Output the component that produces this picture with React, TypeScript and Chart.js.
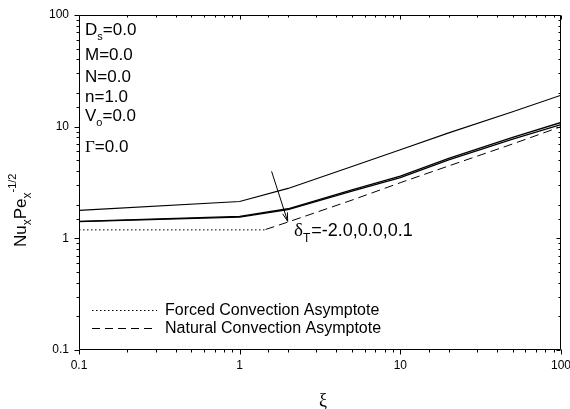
import React, { useEffect, useRef } from "react";
import { Chart, registerables } from "chart.js";

Chart.register(...registerables);

// ---------- data ----------
const XI = [0.1, 1, 2, 5, 10, 20, 50, 100];
const NU_DT_NEG2 = [1.78, 2.14, 2.8, 4.4, 6.2, 8.8, 13.6, 19.1];
const NU_DT_0 = [1.42, 1.57, 1.84, 2.72, 3.6, 5.2, 8.0, 10.9];
const NU_DT_01 = [1.41, 1.55, 1.81, 2.65, 3.5, 5.05, 7.75, 10.45];
const FORCED_XI = [0.1, 1.45];
const FORCED_NU = [1.19, 1.19];
const NATURAL_XI = [1.45, 2, 5, 10, 20, 50, 100];
const NATURAL_NU = [1.2, 1.4, 2.2, 3.15, 4.45, 7.0, 10.0];

const X_MIN = 0.1;
const X_MAX = 100;
const Y_MIN = 0.1;
const Y_MAX = 100;

const PARAM_LINES = [
  { main: "D", sub: "s", rest: "=0.0" },
  { main: "M=0.0", sub: "", rest: "" },
  { main: "N=0.0", sub: "", rest: "" },
  { main: "n=1.0", sub: "", rest: "" },
  { main: "V", sub: "o", rest: "=0.0" },
  { main: "Γ", sub: "", rest: "=0.0" },
];
const DELTA_TEXT = { sym: "δ", sub: "T", rest: "=-2.0,0.0,0.1" };
const ARROW_FROM = { x: 1.58, y: 3.98 };
const ARROW_TO = { x: 1.99, y: 1.42 };
const LEGEND_ITEMS = [
  { label: "Forced Convection Asymptote", dash: [1.5, 2.5] },
  { label: "Natural Convection Asymptote", dash: [8, 5] },
];

const SANS = "Arial, 'Liberation Sans', Helvetica, sans-serif";
const SERIF = "'Times New Roman', 'Liberation Serif', serif";

const isDecade = (v: number) =>
  Math.abs(Math.log10(v) - Math.round(Math.log10(v))) < 1e-6;

const decadeLabel = (v: number) => {
  if (!isDecade(v)) return "";
  const e = Math.round(Math.log10(v));
  return e < 0 ? "0.1" : String(Math.pow(10, e));
};

const decorPlugin = {
  id: "decor",
  afterDraw(chart: any) {
    const ctx: CanvasRenderingContext2D = chart.ctx;
    const { left, right, top, bottom } = chart.chartArea;
    const xs = chart.scales.x;
    const ys = chart.scales.y;
    ctx.save();
    ctx.strokeStyle = "#000";
    ctx.fillStyle = "#000";
    ctx.lineWidth = 1;
    ctx.setLineDash([]);

    // frame
    const L = Math.round(left) + 0.5;
    const R = Math.round(right) - 0.5;
    const T = Math.round(top) + 0.5;
    const B = Math.round(bottom) - 0.5;
    ctx.beginPath();
    ctx.rect(L, T, R - L, B - T);
    ctx.stroke();

    // ticks
    ctx.beginPath();
    for (const t of xs.ticks) {
      const p = Math.round(xs.getPixelForValue(t.value)) + 0.5;
      const maj = isDecade(t.value);
      ctx.moveTo(p, B);
      ctx.lineTo(p, B + (maj ? 5 : 3));
      ctx.moveTo(p, T);
      ctx.lineTo(p, T + (maj ? 4 : 2));
    }
    for (const t of ys.ticks) {
      const p = Math.round(ys.getPixelForValue(t.value)) + 0.5;
      const maj = isDecade(t.value);
      ctx.moveTo(L, p);
      ctx.lineTo(L - (maj ? 5 : 3), p);
      ctx.moveTo(R, p);
      ctx.lineTo(R - (maj ? 4 : 2), p);
    }
    ctx.stroke();

    // parameter block
    const baselines = [35, 60, 82, 102, 121, 152];
    PARAM_LINES.forEach((ln, i) => {
      let x = 85;
      const y = baselines[i];
      const mainFont = ln.main === "Γ" ? `17px ${SERIF}` : `17px ${SANS}`;
      ctx.font = mainFont;
      ctx.textBaseline = "alphabetic";
      ctx.textAlign = "left";
      ctx.fillText(ln.main, x, y);
      x += ctx.measureText(ln.main).width;
      if (ln.sub) {
        ctx.font = `11px ${SANS}`;
        ctx.fillText(ln.sub, x, y + 5);
        x += ctx.measureText(ln.sub).width;
      }
      if (ln.rest) {
        ctx.font = `17px ${SANS}`;
        ctx.fillText(ln.rest, x, y);
      }
    });

    // arrow
    const ax0 = xs.getPixelForValue(ARROW_FROM.x);
    const ay0 = ys.getPixelForValue(ARROW_FROM.y);
    const ax1 = xs.getPixelForValue(ARROW_TO.x);
    const ay1 = ys.getPixelForValue(ARROW_TO.y);
    ctx.beginPath();
    ctx.moveTo(ax0, ay0);
    ctx.lineTo(ax1, ay1);
    const ang = Math.atan2(ay1 - ay0, ax1 - ax0);
    const hl = 9;
    const ha = 0.28;
    ctx.moveTo(ax1, ay1);
    ctx.lineTo(ax1 - hl * Math.cos(ang - ha), ay1 - hl * Math.sin(ang - ha));
    ctx.moveTo(ax1, ay1);
    ctx.lineTo(ax1 - hl * Math.cos(ang + ha), ay1 - hl * Math.sin(ang + ha));
    ctx.stroke();

    // delta label
    {
      let x = 294;
      const y = 236;
      ctx.font = `19px ${SERIF}`;
      ctx.fillText(DELTA_TEXT.sym, x, y);
      x += ctx.measureText(DELTA_TEXT.sym).width;
      ctx.font = `12px ${SANS}`;
      ctx.fillText(DELTA_TEXT.sub, x, y + 6);
      x += ctx.measureText(DELTA_TEXT.sub).width + 1;
      ctx.font = `18px ${SANS}`;
      ctx.fillText(DELTA_TEXT.rest, x, y);
    }

    // legend
    LEGEND_ITEMS.forEach((it, i) => {
      const y = 310 + i * 18 + 0.5;
      ctx.beginPath();
      ctx.setLineDash(it.dash);
      ctx.moveTo(92, y);
      ctx.lineTo(157, y);
      ctx.stroke();
      ctx.setLineDash([]);
      ctx.font = `16px ${SANS}`;
      ctx.textBaseline = "middle";
      ctx.fillText(it.label, 165, y);
    });

    // x title
    ctx.font = `18px ${SERIF}`;
    ctx.textAlign = "center";
    ctx.textBaseline = "middle";
    ctx.fillText("ξ", 323, 401);

    // y title (rotated)
    ctx.save();
    ctx.translate(26, 247);
    ctx.rotate(-Math.PI / 2);
    ctx.textAlign = "left";
    ctx.textBaseline = "alphabetic";
    const parts = [
      { t: "Nu", f: `17px ${SANS}`, dy: 0 },
      { t: "x", f: `12px ${SANS}`, dy: 5 },
      { t: "Pe", f: `17px ${SANS}`, dy: 0 },
      { t: "x", f: `12px ${SANS}`, dy: 5 },
      { t: "-1/2", f: `11px ${SANS}`, dy: -10 },
    ];
    let px = 0;
    for (const p of parts) {
      ctx.font = p.f;
      ctx.fillText(p.t, px, p.dy);
      px += ctx.measureText(p.t).width;
    }
    ctx.restore();

    ctx.restore();
  },
};

const toPts = (xs: number[], ys: number[]) => xs.map((x, i) => ({ x, y: ys[i] }));

export default function App() {
  const ref = useRef<HTMLCanvasElement | null>(null);

  useEffect(() => {
    if (!ref.current) return;
    const base = {
      borderColor: "#000",
      backgroundColor: "#000",
      pointRadius: 0,
      tension: 0,
      fill: false,
    };
    const chart = new Chart(ref.current, {
      type: "line",
      data: {
        datasets: [
          { ...base, label: "δT=-2.0", data: toPts(XI, NU_DT_NEG2), borderWidth: 1.1 },
          { ...base, label: "δT=0.0", data: toPts(XI, NU_DT_0), borderWidth: 1.3 },
          { ...base, label: "δT=0.1", data: toPts(XI, NU_DT_01), borderWidth: 1.3 },
          {
            ...base,
            label: "Forced Convection Asymptote",
            data: toPts(FORCED_XI, FORCED_NU),
            borderWidth: 1,
            borderDash: [1.5, 2.5],
          },
          {
            ...base,
            label: "Natural Convection Asymptote",
            data: toPts(NATURAL_XI, NATURAL_NU),
            borderWidth: 1,
            borderDash: [9, 5],
          },
        ],
      },
      options: {
        animation: false,
        responsive: false,
        devicePixelRatio: 1,
        parsing: false as any,
        layout: { padding: { top: 15, right: 9, left: 0, bottom: 0 } },
        plugins: { legend: { display: false }, tooltip: { enabled: false } },
        scales: {
          x: {
            type: "logarithmic",
            min: X_MIN,
            max: X_MAX,
            grid: { display: false, drawTicks: false },
            border: { display: false },
            ticks: {
              autoSkip: false,
              maxRotation: 0,
              padding: 8,
              color: "#000",
              font: { family: SANS, size: 12 },
              callback: (v: any) => decadeLabel(Number(v)),
            },
            afterFit: (s: any) => {
              s.height = 59;
              s.paddingLeft = 0;
              s.paddingRight = 0;
            },
          },
          y: {
            type: "logarithmic",
            min: Y_MIN,
            max: Y_MAX,
            grid: { display: false, drawTicks: false },
            border: { display: false },
            ticks: {
              autoSkip: false,
              padding: 10,
              color: "#000",
              font: { family: SANS, size: 12 },
              callback: (v: any) => decadeLabel(Number(v)),
            },
            afterFit: (s: any) => {
              s.width = 79;
              s.paddingTop = 0;
              s.paddingBottom = 0;
            },
          },
        },
      },
      plugins: [decorPlugin],
    } as any);
    return () => chart.destroy();
  }, []);

  return (
    <div style={{ position: "fixed", left: 0, top: 0, width: 570, height: 409, background: "#fff" }}>
      <canvas ref={ref} width={570} height={409} style={{ display: "block" }} />
    </div>
  );
}
